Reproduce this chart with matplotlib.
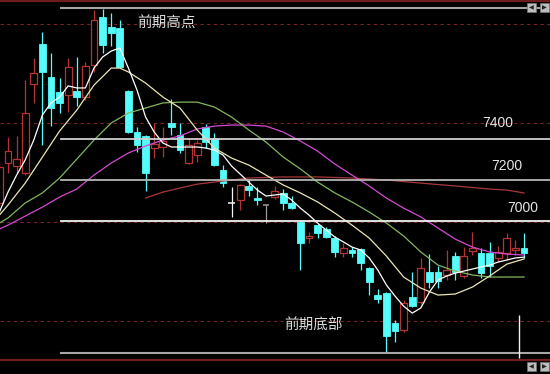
import matplotlib
matplotlib.use("Agg")
import matplotlib.pyplot as plt
from matplotlib.patches import Rectangle
import numpy as np

CJK = ['Noto Sans CJK SC', 'Noto Sans CJK JP', 'Noto Sans CJK TC',
       'Noto Sans CJK KR', 'DejaVu Sans']
plt.rcParams['font.family'] = CJK

# ---- daily bars (index -1 is the partially visible first bar) ----
bar_index = list(range(-1, 61))
opens = [7088, 7283, 7268, 7234, 7668, 7863, 7702, 7629, 7615, 7634,
         7605, 7761, 7995, 7946, 7941, 7634, 7434, 7415, 7356, 7361,
         7478, 7420, 7283, 7322, 7459, 7405, 7249, 7088, 7102, 7171,
         7112, 7078, 7117, 7137, 7088, 6995, 6917, 6980, 6961, 6917,
         6844, 6859, 6863, 6771, 6639, 6649, 6502, 6468, 6629, 6605,
         6751, 6751, 6737, 6829, 6732, 6854, 6844, 6844, 6820, 6844,
         6859, 6868]
closes = [7263, 7341, 7302, 7527, 7722, 7727, 7551, 7576, 7751, 7605,
          7756, 7980, 7858, 7917, 7751, 7434, 7371, 7234, 7376, 7390,
          7459, 7346, 7371, 7381, 7385, 7273, 7185, 7088, 7176, 7151,
          7102, 7078, 7146, 7088, 7063, 6893, 6927, 6941, 6922, 6849,
          6868, 6844, 6795, 6702, 6620, 6439, 6463, 6600, 6585, 6771,
          6702, 6707, 6761, 6751, 6829, 6868, 6746, 6780, 6849, 6917,
          6868, 6844]
highs = [7298, 7410, 7415, 7688, 7795, 7922, 7819, 7698, 7795, 7800,
         7776, 8029, 8034, 8015, 7980, 7639, 7459, 7420, 7478, 7459,
         7595, 7478, 7405, 7395, 7473, 7429, 7273, 7166, 7180, 7205,
         7166, 7078, 7171, 7156, 7122, 7000, 6946, 6985, 6971, 6927,
         6893, 6873, 6868, 6776, 6668, 6654, 6517, 6615, 6751, 6820,
         6839, 6780, 6859, 6849, 6873, 6946, 6868, 6898, 6878, 6941,
         6907, 6941]
lows = [7073, 7234, 7234, 7224, 7576, 7371, 7463, 7527, 7532, 7561,
        7590, 7727, 7819, 7854, 7746, 7429, 7337, 7146, 7307, 7312,
        7420, 7332, 7278, 7288, 7356, 7268, 7166, 7020, 7054, 7122,
        7078, 6990, 7107, 7054, 7059, 6761, 6893, 6917, 6917, 6824,
        6824, 6824, 6761, 6639, 6600, 6356, 6410, 6459, 6580, 6595,
        6673, 6673, 6712, 6712, 6722, 6834, 6722, 6727, 6800, 6810,
        6834, 6820]

# ---- moving averages ----
ma5_x = list(range(-1, 61))
ma5 = [7044, 7141, 7224, 7298, 7395, 7517, 7576, 7605, 7659, 7649,
       7649, 7746, 7800, 7829, 7844, 7746, 7639, 7507, 7434, 7381,
       7361, 7361, 7361, 7361, 7356, 7346, 7322, 7268, 7229, 7190,
       7151, 7122, 7127, 7132, 7102, 7063, 7029, 6990, 6956, 6922,
       6898, 6873, 6859, 6820, 6761, 6688, 6634, 6585, 6551, 6576,
       6654, 6712, 6732, 6746, 6756, 6766, 6776, 6785, 6800, 6810,
       6820, 6824]
ma10_x = [-1, 0, 2, 4, 6, 8, 10, 12, 13, 14, 16, 18, 20, 22, 24, 26, 28,
          30, 32, 34, 36, 38, 40, 42, 44, 46, 48, 50, 52, 54, 56, 58, 60]
ma10 = [7029, 7078, 7185, 7312, 7439, 7541, 7663, 7746, 7746, 7727,
        7673, 7605, 7551, 7444, 7356, 7307, 7273, 7224, 7176, 7137,
        7093, 7039, 6980, 6917, 6829, 6727, 6673, 6639, 6644, 6678,
        6732, 6790, 6815]
ma_x = [-1, 0, 2, 4, 6, 8, 10, 12, 14, 16, 18, 20, 22, 24, 26, 28, 30,
        32, 34, 36, 38, 40, 42, 44, 46, 48, 50, 52, 54, 56, 58, 60]
ma20 = [6990, 7015, 7088, 7137, 7210, 7302, 7395, 7478, 7527, 7551,
        7576, 7580, 7580, 7556, 7507, 7444, 7385, 7312, 7254, 7190,
        7137, 7093, 7044, 6990, 6927, 6849, 6785, 6756, 6737, 6727,
        6727, 6727]
ma30 = [6961, 6980, 7024, 7068, 7117, 7156, 7224, 7283, 7332, 7366,
        7395, 7415, 7449, 7463, 7468, 7468, 7463, 7434, 7390, 7341,
        7278, 7224, 7171, 7112, 7063, 7020, 6966, 6912, 6873, 6849,
        6839, 6834]
ma_long_x = [16, 18, 20, 22, 24, 26, 28, 32, 36, 40, 44, 48, 52, 56, 58, 60]
ma_long = [7112, 7141, 7161, 7180, 7190, 7200, 7210, 7215, 7215, 7210,
           7200, 7185, 7171, 7156, 7151, 7137]

# ---- reference levels ----
grid_levels = [7961, 7478, 6995, 6512]
prior_high = 8037
prior_low = 6356
price_levels = [7400, 7200, 7000]
price_labels = ["7400", "7200", "7000"]
label_pos = [(55.1, 7478), (56.2, 7268), (58.0, 7063)]

UP = "#b43434"
DOWN = "#54fcfc"
BG = "#000000"
doji_shade = {30: "#9c9c9c"}

fig = plt.figure(figsize=(5.5, 3.74), dpi=100, facecolor=BG)
ax = fig.add_axes([0, 0, 1, 1], facecolor=BG)
ax.set_xlim(-0.93, 63.02)
ax.set_ylim(6254, 8078)
ax.axis("off")

# dashed price grid and frame lines
for g in grid_levels:
    ax.axhline(g, color="#7a2424", lw=0.8, ls=(0, (3, 3)), zorder=1)
ax.axhline(8071, color="#6e1c1c", lw=1.6, zorder=1)
ax.axhline(6322, color="#6e1c1c", lw=1.6, zorder=1)

# candlesticks
bw = 0.80
for i, o, c, h, l in zip(bar_index, opens, closes, highs, lows):
    if c > o:
        col = UP
    elif c < o:
        col = DOWN
    else:
        col = doji_shade.get(i, "#f4f4f4")
    ax.vlines(i, l, h, color=col, lw=0.9, zorder=2)
    lo_b, hi_b = min(o, c), max(o, c)
    if hi_b - lo_b < 4:
        ax.hlines((o + c) / 2, i - bw / 2, i + bw / 2, color=col, lw=1.1, zorder=3)
    elif c > o:
        ax.add_patch(Rectangle((i - bw / 2, lo_b), bw, hi_b - lo_b,
                               facecolor=BG, edgecolor=col, lw=0.9, zorder=3))
    else:
        ax.add_patch(Rectangle((i - bw / 2, lo_b), bw, hi_b - lo_b,
                               facecolor=col, edgecolor=col, lw=0.6, zorder=3))

# moving average curves
ax.plot(ma_long_x, ma_long, color="#a8383a", lw=0.9, zorder=4)
ax.plot(ma_x, ma30, color="#d24ad2", lw=0.9, zorder=4)
ax.plot(ma_x, ma20, color="#82b660", lw=0.9, zorder=4)
ax.plot(ma10_x, ma10, color="#ece6b4", lw=0.9, zorder=4)
ax.plot(ma5_x, ma5, color="#ffffff", lw=0.9, zorder=4)

# support / resistance lines
x0 = 61 / 550
ax.axhline(prior_high, xmin=x0, color="#a6a6a6", lw=1.5, zorder=5)
ax.axhline(prior_low, xmin=x0, color="#a6a6a6", lw=1.5, zorder=5)
for lv, shade in zip(price_levels, ["#cfcfcf", "#b4b4b4", "#f2f2f2"]):
    ax.axhline(lv, xmin=x0, color=shade, lw=1.3, zorder=5)

for txt, (lx, ly) in zip(price_labels, label_pos):
    ax.text(lx, ly, txt, color="#e6e6e6", fontsize=10, family="Liberation Sans",
            va="center", ha="left", zorder=6)
ax.text(15.0, 7961, "前期高点", color="#dcdcdc", fontsize=10.5, family=CJK,
        va="center", ha="left", zorder=6)
ax.text(32.1, 6488, "前期底部", color="#dcdcdc", fontsize=10.5, family=CJK,
        va="center", ha="left", zorder=6)

# cursor marker
ax.vlines(59.42, 6332, 6542, color="#f0f0f0", lw=1.0, zorder=6)

# small navigation buttons in the corners
W, H = 550.0, 374.0
for (bx, by, sym) in [(527, 3, "◀"), (540, 3, "▶"), (527, 362, "◀"), (540, 362, "▶")]:
    fig.add_artist(Rectangle((bx / W, 1 - (by + 9) / H), 9 / W, 9 / H,
                             transform=fig.transFigure, facecolor="#bdbdbd",
                             edgecolor="#777777", lw=0.5))
    fig.text((bx + 4.5) / W, 1 - (by + 4.5) / H, sym, fontsize=4.5,
             color="#222222", ha="center", va="center", family="DejaVu Sans")

fig.savefig("out.png", dpi=100, facecolor=BG)
